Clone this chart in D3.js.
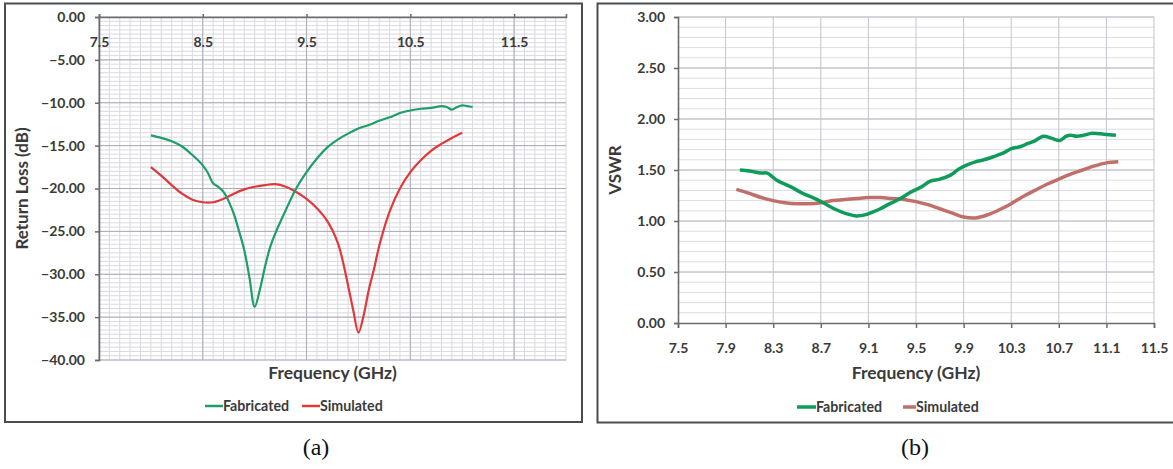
<!DOCTYPE html>
<html><head><meta charset="utf-8">
<script src="https://cdn.jsdelivr.net/npm/d3@7"></script>
<style>
html,body{margin:0;padding:0;background:#fff;}
svg{display:block;}
text{font-family:Lato,"Open Sans",sans-serif;}
</style></head>
<body>
<svg id="c" width="1173" height="469"></svg>
<script>
// ---------- Data: panel (a) Return loss ----------
const rlFabFreq = [8.0,8.1,8.2,8.3,8.4,8.5,8.55,8.6,8.65,8.7,8.75,8.8,8.85,8.9,8.95,9.0,9.05,9.1,9.15,9.2,9.3,9.4,9.5,9.6,9.7,9.8,9.9,10.0,10.1,10.2,10.3,10.4,10.5,10.6,10.7,10.8,10.85,10.9,10.95,11.0,11.05,11.1];
const rlFabVal  = [-13.8,-14.1,-14.5,-15.1,-16.1,-17.3,-18.2,-19.4,-19.8,-20.4,-21.5,-23.0,-25.0,-27.2,-30.4,-33.8,-31.8,-29.1,-26.8,-25.2,-22.5,-20.0,-18.1,-16.5,-15.2,-14.3,-13.6,-13.0,-12.6,-12.1,-11.7,-11.2,-10.9,-10.7,-10.6,-10.4,-10.5,-10.8,-10.5,-10.3,-10.4,-10.5];
const rlSimFreq = [8.0,8.1,8.2,8.3,8.4,8.5,8.6,8.7,8.8,8.9,9.0,9.1,9.2,9.3,9.4,9.5,9.6,9.7,9.8,9.85,9.9,9.95,10.0,10.05,10.1,10.15,10.2,10.3,10.4,10.5,10.6,10.7,10.8,10.9,11.0];
const rlSimVal  = [-17.5,-18.5,-19.6,-20.6,-21.3,-21.6,-21.6,-21.2,-20.6,-20.1,-19.8,-19.6,-19.5,-19.8,-20.4,-21.2,-22.3,-23.8,-26.3,-28.5,-31.3,-34.2,-36.8,-34.8,-31.8,-29.4,-26.7,-22.7,-20.0,-18.1,-16.7,-15.6,-14.8,-14.1,-13.5];
const rlXTicks = [7.5,8.5,9.5,10.5,11.5];
const rlYTicks = [0,-5,-10,-15,-20,-25,-30,-35,-40];

// ---------- Data: panel (b) VSWR ----------
const vsFabFreq = [8.02,8.1,8.2,8.25,8.33,8.44,8.55,8.67,8.75,8.83,8.92,9.0,9.07,9.14,9.2,9.28,9.37,9.45,9.54,9.62,9.7,9.79,9.86,9.93,10.0,10.07,10.15,10.24,10.3,10.38,10.44,10.49,10.57,10.64,10.71,10.76,10.8,10.85,10.91,10.98,11.08,11.18];
const vsFabVal  = [1.50,1.49,1.47,1.47,1.40,1.34,1.27,1.21,1.16,1.11,1.07,1.05,1.06,1.09,1.12,1.17,1.22,1.28,1.33,1.39,1.41,1.45,1.51,1.55,1.58,1.60,1.63,1.67,1.71,1.73,1.76,1.78,1.83,1.81,1.79,1.83,1.84,1.83,1.84,1.86,1.85,1.84];
const vsSimFreq = [7.99,8.1,8.2,8.3,8.4,8.5,8.6,8.7,8.8,8.9,9.0,9.1,9.2,9.3,9.4,9.5,9.6,9.7,9.8,9.9,10.0,10.1,10.2,10.3,10.4,10.5,10.6,10.7,10.8,10.9,11.0,11.1,11.2];
const vsSimVal  = [1.31,1.27,1.23,1.20,1.18,1.17,1.17,1.18,1.20,1.21,1.22,1.23,1.23,1.22,1.21,1.19,1.16,1.12,1.08,1.04,1.03,1.06,1.11,1.17,1.24,1.30,1.36,1.41,1.46,1.50,1.54,1.57,1.58];
const vsXTicks = [7.5,7.9,8.3,8.7,9.1,9.5,9.9,10.3,10.7,11.1,11.5];
const vsYTicks = [0,0.5,1.0,1.5,2.0,2.5,3.0];

const seriesNames = ["Fabricated","Simulated"];
const captions = ["(a)","(b)"];

const svg = d3.select("#c");
const txt = "#3a3a3a";
const axisCol = "#6b6b6b";

// panel borders
svg.append("rect").attr("x",5).attr("y",3.5).attr("width",577).attr("height",418.5)
  .attr("fill","#fff").attr("stroke","#4a4d4f").attr("stroke-width",2);
svg.append("rect").attr("x",597.5).attr("y",3.5).attr("width",580).attr("height",419)
  .attr("fill","#fff").attr("stroke","#4a4d4f").attr("stroke-width",2);

// ================= Panel (a) =================
{
  const x = d3.scaleLinear().domain([7.5,12.0]).range([99,566]);
  const y = d3.scaleLinear().domain([-40,0]).range([360,17]);
  const g = svg.append("g");
  // minor grid
  g.append("g").selectAll("line").data(d3.range(0,46).map(i=>7.5+i*0.1)).join("line")
    .attr("x1",d=>x(d)).attr("x2",d=>x(d)).attr("y1",y(0)).attr("y2",y(-40))
    .attr("stroke","#d9d9e2").attr("stroke-width",1);
  g.append("g").selectAll("line").data(d3.range(0,81).map(i=>-i*0.5)).join("line")
    .attr("x1",x(7.5)).attr("x2",x(12)).attr("y1",d=>y(d)).attr("y2",d=>y(d))
    .attr("stroke","#d9d9e2").attr("stroke-width",1);
  // major grid
  g.append("g").selectAll("line").data(rlXTicks).join("line")
    .attr("x1",d=>x(d)).attr("x2",d=>x(d)).attr("y1",y(0)).attr("y2",y(-40))
    .attr("stroke","#ababb8").attr("stroke-width",1);
  g.append("g").selectAll("line").data(rlYTicks).join("line")
    .attr("x1",x(7.5)).attr("x2",x(12)).attr("y1",d=>y(d)).attr("y2",d=>y(d))
    .attr("stroke","#ababb8").attr("stroke-width",1);
  // axes
  const ya = g.append("g").attr("transform",`translate(${x(7.5)},0)`)
    .call(d3.axisLeft(y).tickValues(rlYTicks).tickSize(4).tickPadding(10).tickFormat(d3.format(".2f")));
  const xa = g.append("g").attr("transform",`translate(0,${y(0)})`)
    .call(d3.axisTop(x).tickValues(rlXTicks).tickSize(3).tickFormat(d3.format(".1f")));
  [ya,xa].forEach(a=>{
    a.select(".domain").attr("stroke",axisCol).attr("stroke-width",1.6);
    a.selectAll(".tick line").attr("stroke",axisCol).attr("stroke-width",1.5);
    a.selectAll("text").attr("fill",txt).attr("font-size",14).attr("font-weight","bold")
      .style("font-family","Lato,sans-serif");
  });
  xa.selectAll(".tick text").attr("y",25).attr("dy","0.35em");
  const line = d3.line().x(d=>x(d[0])).y(d=>y(d[1])).curve(d3.curveCatmullRom.alpha(0.5));
  g.append("path").datum(d3.zip(rlSimFreq,rlSimVal)).attr("d",line)
    .attr("fill","none").attr("stroke","#e0393b").attr("stroke-width",2.2);
  g.append("path").datum(d3.zip(rlFabFreq,rlFabVal)).attr("d",line)
    .attr("fill","none").attr("stroke","#1e9e68").attr("stroke-width",2.2);
  // titles
  g.append("text").attr("x",(x(7.5)+x(12))/2).attr("y",379).attr("text-anchor","middle")
    .attr("font-size",17.5).attr("font-weight","bold").attr("fill",txt).text("Frequency (GHz)");
  g.append("text").attr("transform",`translate(28,${(y(0)+y(-40))/2}) rotate(-90)`)
    .attr("text-anchor","middle").attr("font-size",17).attr("font-weight","bold").attr("fill",txt)
    .text("Return Loss (dB)");
  // legend
  const leg = [{c:"#1e9e68",lx:205,tx:223},{c:"#e0393b",lx:302,tx:320}];
  leg.forEach((l,i)=>{
    g.append("line").attr("x1",l.lx).attr("x2",l.lx+18).attr("y1",406).attr("y2",406)
      .attr("stroke",l.c).attr("stroke-width",2.5);
    g.append("text").attr("x",l.tx).attr("y",406).attr("dy","0.35em").attr("font-size",14.2)
      .attr("font-weight","bold").attr("fill",txt).text(seriesNames[i]);
  });
}

// ================= Panel (b) =================
{
  const x = d3.scaleLinear().domain([7.5,11.5]).range([678,1154]);
  const y = d3.scaleLinear().domain([0,3]).range([323,17]);
  const g = svg.append("g");
  g.append("g").selectAll("line").data(d3.range(1,31).map(i=>i*0.1)).join("line")
    .attr("x1",x(7.5)).attr("x2",x(11.5)).attr("y1",d=>y(d)).attr("y2",d=>y(d))
    .attr("stroke","#dcdce4").attr("stroke-width",1);
  g.append("g").selectAll("line").data(vsYTicks.slice(1)).join("line")
    .attr("x1",x(7.5)).attr("x2",x(11.5)).attr("y1",d=>y(d)).attr("y2",d=>y(d))
    .attr("stroke","#b8b8c4").attr("stroke-width",1);
  g.append("g").selectAll("line").data(vsXTicks.slice(1)).join("line")
    .attr("x1",d=>x(d)).attr("x2",d=>x(d)).attr("y1",y(0)).attr("y2",y(3))
    .attr("stroke","#c4c4ce").attr("stroke-width",1);
  const ya = g.append("g").attr("transform",`translate(${x(7.5)},0)`)
    .call(d3.axisLeft(y).tickValues(vsYTicks).tickSize(4).tickPadding(9).tickFormat(d3.format(".2f")));
  const xa = g.append("g").attr("transform",`translate(0,${y(0)})`)
    .call(d3.axisBottom(x).tickValues(vsXTicks).tickSize(5).tickPadding(15).tickFormat(d3.format(".1f")));
  [ya,xa].forEach(a=>{
    a.select(".domain").attr("stroke",axisCol).attr("stroke-width",1.6);
    a.selectAll(".tick line").attr("stroke",axisCol).attr("stroke-width",1.5);
    a.selectAll("text").attr("fill",txt).attr("font-size",14).attr("font-weight","bold")
      .style("font-family","Lato,sans-serif");
  });
  const line = d3.line().x(d=>x(d[0])).y(d=>y(d[1])).curve(d3.curveCatmullRom.alpha(0.5));
  g.append("path").datum(d3.zip(vsSimFreq,vsSimVal)).attr("d",line)
    .attr("fill","none").attr("stroke","#c0706b").attr("stroke-width",3.5).attr("stroke-linejoin","round");
  g.append("path").datum(d3.zip(vsFabFreq,vsFabVal)).attr("d",line)
    .attr("fill","none").attr("stroke","#0f9c5a").attr("stroke-width",3.5).attr("stroke-linejoin","round");
  g.append("text").attr("x",(x(7.5)+x(11.5))/2).attr("y",379).attr("text-anchor","middle")
    .attr("font-size",17.5).attr("font-weight","bold").attr("fill",txt).text("Frequency (GHz)");
  g.append("text").attr("transform",`translate(621,${(y(0)+y(3))/2}) rotate(-90)`)
    .attr("text-anchor","middle").attr("font-size",17).attr("font-weight","bold").attr("fill",txt)
    .text("VSWR");
  const leg = [{c:"#0f9c5a",lx:797,tx:816},{c:"#c0706b",lx:903,tx:916}];
  leg.forEach((l,i)=>{
    g.append("line").attr("x1",l.lx).attr("x2",l.lx+(i?13:19)).attr("y1",407).attr("y2",407)
      .attr("stroke",l.c).attr("stroke-width",3.5);
    g.append("text").attr("x",l.tx).attr("y",407).attr("dy","0.35em").attr("font-size",14.2)
      .attr("font-weight","bold").attr("fill",txt).text(seriesNames[i]);
  });
}

// captions
[316,915].forEach((cx,i)=>{
  svg.append("text").attr("x",cx).attr("y",455).attr("text-anchor","middle")
    .attr("font-size",24).style("font-family","'Liberation Serif','DejaVu Serif',serif")
    .attr("fill","#111").text(captions[i]);
});
</script>
</body></html>
